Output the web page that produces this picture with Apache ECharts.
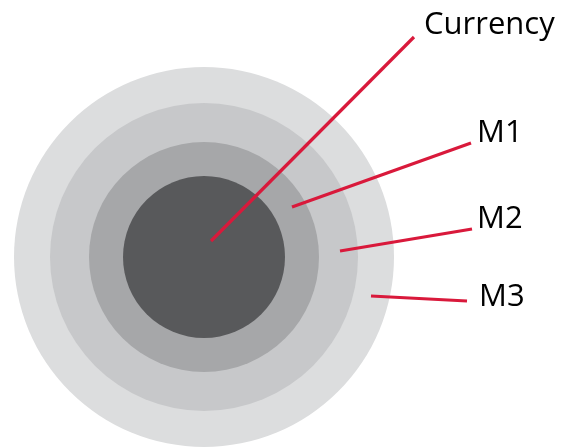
<!DOCTYPE html>
<html>
<head>
<meta charset="utf-8">
<script src="https://cdn.jsdelivr.net/npm/echarts@6/dist/echarts.min.js"></script>
<style>html,body{margin:0;padding:0;background:#fff;}#c{width:561px;height:447px;}</style>
</head>
<body>
<div id="c"></div>
<script>
// Rings from inner to outer
var ringNames = ['Currency', 'M1', 'M2', 'M3'];
var ringRadius = [81, 115, 154, 190];
var ringColors = ['#58595b', '#a6a7a9', '#c7c8ca', '#dcddde'];
// Leader lines: start (inside ring) and end (near label)
var lineStart = [[211, 241], [292, 207], [340, 251], [371, 296]];
var lineEnd = [[414, 37], [471, 143], [472, 229], [467, 301]];
// Label anchors (left-middle of text)
var labelAnchor = [[424, 25], [477, 133], [477, 219], [479, 297]];

var chart = echarts.init(document.getElementById('c'));
var center = [204, 257];
var series = [];
for (var i = ringNames.length - 1; i >= 0; i--) {
  series.push({
    type: 'pie', silent: true, animation: false,
    center: center, radius: [0, ringRadius[i]],
    label: {show: false}, labelLine: {show: false},
    itemStyle: {color: ringColors[i]},
    z: 1 + (ringNames.length - i),
    data: [{name: ringNames[i], value: 1}]
  });
}
for (var j = 0; j < ringNames.length; j++) {
  series.push({
    type: 'line', xAxisIndex: 0, yAxisIndex: 0, silent: true, animation: false,
    symbol: 'none', z: 20,
    lineStyle: {color: '#d9193b', width: 3.2},
    data: [lineStart[j], lineEnd[j]]
  });
}
series.push({
  type: 'scatter', silent: true, animation: false, symbolSize: 0, z: 30,
  itemStyle: {opacity: 1},
  data: labelAnchor.map(function (p, k) { return {value: p, name: ringNames[k]}; }),
  label: {show: true, position: 'right', distance: 0, formatter: '{b}',
    fontFamily: 'Open Sans', fontSize: 31, color: '#000000', opacity: 1}
});

chart.setOption({
  animation: false,
  grid: {left: 0, right: 0, top: 0, bottom: 0},
  xAxis: {type: 'value', min: 0, max: 561, show: false},
  yAxis: {type: 'value', min: 0, max: 447, inverse: true, show: false},
  series: series
});
</script>
</body>
</html>
